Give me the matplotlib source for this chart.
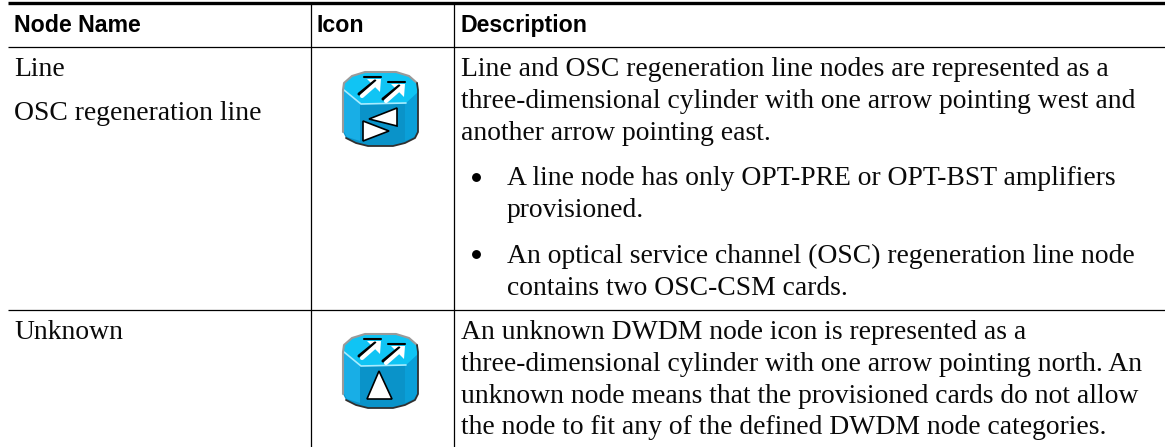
import matplotlib
matplotlib.use('Agg')
import matplotlib.pyplot as plt
from matplotlib.patches import Polygon

W, H = 1165, 447
headers = ["Node Name", "Icon", "Description"]
names = [("Line", 76), ("OSC regeneration line", 120), ("Unknown", 339)]
body = [
    ("Line and OSC regeneration line nodes are represented as a", 461, 76),
    ("three-dimensional cylinder with one arrow pointing west and", 461, 108),
    ("another arrow pointing east.", 461, 140),
    ("A line node has only OPT-PRE or OPT-BST amplifiers", 507, 185),
    ("provisioned.", 507, 217),
    ("An optical service channel (OSC) regeneration line node", 507, 263),
    ("contains two OSC-CSM cards.", 507, 295),
    ("An unknown DWDM node icon is represented as a", 461, 339),
    ("three-dimensional cylinder with one arrow pointing north. An", 461, 371),
    ("unknown node means that the provisioned cards do not allow", 461, 403),
    ("the node to fit any of the defined DWDM node categories.", 461, 434),
]
bullet_y = [177, 254]

fig = plt.figure(figsize=(W/100, H/100), dpi=100)
ax = fig.add_axes([0, 0, 1, 1])
ax.set_xlim(0, W); ax.set_ylim(H, 0); ax.axis('off')

ax.plot([8, 1165], [3, 3], color='k', lw=2.4, solid_capstyle='butt')
ax.plot([8, 1165], [47, 47], color='k', lw=0.9, solid_capstyle='butt')
ax.plot([8, 1165], [310, 310], color='k', lw=0.9, solid_capstyle='butt')
ax.plot([310.5, 310.5], [3, 447], color='k', lw=0.9, solid_capstyle='butt')
ax.plot([454, 454], [3, 447], color='k', lw=0.9, solid_capstyle='butt')

for t, x in zip(headers, [14, 317, 460]):
    ax.text(x, 32, t, family='Liberation Sans', weight='bold', size=16.7, va='baseline', color='k')
for t, y in names:
    ax.text(14, y, t, family='Liberation Serif', size=19.9, va='baseline', color='#0a0a0a')
for t, x, y in body:
    ax.text(x, y, t, family='Liberation Serif', size=19.9, va='baseline', color='#0a0a0a')
for y in bullet_y:
    ax.plot([476], [y], 'o', color='k', ms=6.4, mew=0)


def icon(x0, y0, triangles):
    def P(pts, **kw):
        ax.add_patch(Polygon([(x0+u, y0+v) for u, v in pts], closed=True, **kw))

    def L(pts, color, lw):
        ax.plot([x0+u for u, v in pts], [y0+v for u, v in pts], color=color, lw=lw,
                solid_capstyle='round', solid_joinstyle='round')

    outer = [(22, 0), (53, 0), (66, 4), (74, 11), (75, 18), (75, 60), (72, 66), (62, 71),
             (50, 74), (25, 74), (13, 71), (3, 66), (0, 60), (0, 18), (1, 11), (9, 4)]
    P(outer, fc='#0a93c9', ec='none')
    P([(1, 18), (17, 31), (17, 69), (4, 65), (1, 60)], fc='#18aee6', ec='none')
    P([(62, 31), (74, 20), (74, 60), (71, 65), (62, 69)], fc='#0a9fd8', ec='none')
    P([(1, 11), (9, 4), (22, 0), (53, 0), (66, 4), (74, 11), (75, 20), (63, 31), (18, 32), (1, 18)],
      fc='#10c4f4', ec='none')
    L([(1, 18), (18, 32), (63, 31)], '#a8ecff', 1.2)
    L([(0, 60), (0, 18), (1, 11), (9, 4), (22, 0), (53, 0), (66, 4), (74, 11)], '#9a9a9a', 1.5)
    L([(74, 11), (75, 18), (75, 60), (72, 66), (62, 71), (50, 74), (25, 74), (13, 71), (3, 66)],
      '#303030', 1.3)
    for du, dv in [(0, 0), (24, 5)]:
        L([(16+du, 22+dv), (32+du, 9+dv)], 'k', 2.2)
        L([(19+du, 24+dv), (35+du, 10+dv)], 'white', 3.0)
        P([(24+du, 7+dv), (38+du, 7+dv), (37+du, 20+dv)], fc='white', ec='none')
        L([(21+du, 5+dv), (38+du, 5+dv)], 'k', 1.5)
    for tri in triangles:
        P(tri, fc='white', ec='k', lw=1.2)


icon(343, 72, [[(26, 47), (54, 36), (54, 54)], [(20, 49), (20, 69), (46, 59)]])
icon(343, 334, [[(36, 37), (24, 65), (49, 65)]])

fig.savefig('out.png', dpi=100)
